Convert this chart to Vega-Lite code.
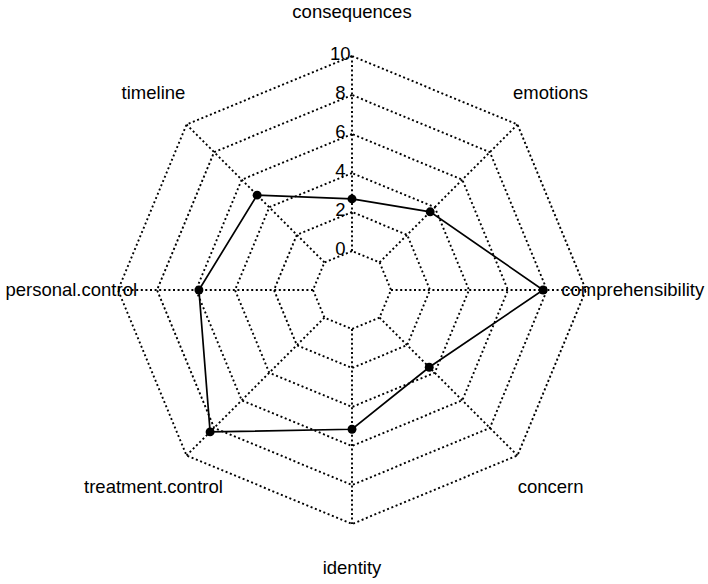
{
  "$schema": "https://vega.github.io/schema/vega-lite/v6.json",
  "width": 708,
  "height": 584,
  "padding": 0,
  "autosize": {"type": "fit", "contains": "padding"},
  "background": "white",
  "config": {"view": {"stroke": null}, "text": {"font": "Liberation Sans", "fontSize": 18.5, "color": "black"}},
  "datasets": {
    "scores": [
      {"axis": "consequences", "k": 0, "value": 2.67},
      {"axis": "timeline", "k": 1, "value": 4.88},
      {"axis": "personal.control", "k": 2, "value": 5.85},
      {"axis": "treatment.control", "k": 3, "value": 8.29},
      {"axis": "identity", "k": 4, "value": 5.14},
      {"axis": "concern", "k": 5, "value": 3.6},
      {"axis": "comprehensibility", "k": 6, "value": 7.8},
      {"axis": "emotions", "k": 7, "value": 3.67}
    ],
    "grid": [
      {"k": 0, "levels": [0, 2, 4, 6, 8, 10]},
      {"k": 1, "levels": [0, 2, 4, 6, 8, 10]},
      {"k": 2, "levels": [0, 2, 4, 6, 8, 10]},
      {"k": 3, "levels": [0, 2, 4, 6, 8, 10]},
      {"k": 4, "levels": [0, 2, 4, 6, 8, 10]},
      {"k": 5, "levels": [0, 2, 4, 6, 8, 10]},
      {"k": 6, "levels": [0, 2, 4, 6, 8, 10]},
      {"k": 7, "levels": [0, 2, 4, 6, 8, 10]}
    ],
    "ticks": [
      {"level": 0}, {"level": 2}, {"level": 4}, {"level": 6}, {"level": 8}, {"level": 10}
    ]
  },
  "layer": [
    {
      "data": {"name": "grid"},
      "transform": [
        {"flatten": ["levels"], "as": ["level"]},
        {"calculate": "(datum.level + 2) / 12", "as": "r"},
        {"calculate": "PI / 2 + datum.k * PI / 4", "as": "ang"},
        {"calculate": "datum.r * cos(datum.ang)", "as": "gx"},
        {"calculate": "datum.r * sin(datum.ang)", "as": "gy"}
      ],
      "mark": {"type": "line", "interpolate": "linear-closed", "color": "black", "strokeWidth": 1.9, "strokeDash": [2, 2.6]},
      "encoding": {
        "x": {"field": "gx", "type": "quantitative", "scale": {"domain": [-1.5043, 1.5214], "nice": false, "zero": false}, "axis": null},
        "y": {"field": "gy", "type": "quantitative", "scale": {"domain": [-1.2564, 1.2393], "nice": false, "zero": false}, "axis": null},
        "detail": {"field": "level", "type": "nominal"},
        "order": {"field": "k", "type": "quantitative"}
      }
    },
    {
      "data": {"name": "scores"},
      "transform": [
        {"calculate": "PI / 2 + datum.k * PI / 4", "as": "ang"},
        {"calculate": "cos(datum.ang) / 6", "as": "sx"},
        {"calculate": "sin(datum.ang) / 6", "as": "sy"},
        {"calculate": "cos(datum.ang)", "as": "ex"},
        {"calculate": "sin(datum.ang)", "as": "ey"}
      ],
      "mark": {"type": "rule", "color": "black", "strokeWidth": 1.9, "strokeDash": [2, 2.6]},
      "encoding": {
        "x": {"field": "sx", "type": "quantitative", "scale": {"domain": [-1.5043, 1.5214], "nice": false, "zero": false}, "axis": null},
        "y": {"field": "sy", "type": "quantitative", "scale": {"domain": [-1.2564, 1.2393], "nice": false, "zero": false}, "axis": null},
        "x2": {"field": "ex"},
        "y2": {"field": "ey"}
      }
    },
    {
      "data": {"name": "ticks"},
      "transform": [
        {"calculate": "-0.05", "as": "tx"},
        {"calculate": "(datum.level + 2) / 12", "as": "ty"}
      ],
      "mark": {"type": "text", "align": "center", "baseline": "middle", "dy": -2},
      "encoding": {
        "x": {"field": "tx", "type": "quantitative", "scale": {"domain": [-1.5043, 1.5214], "nice": false, "zero": false}, "axis": null},
        "y": {"field": "ty", "type": "quantitative", "scale": {"domain": [-1.2564, 1.2393], "nice": false, "zero": false}, "axis": null},
        "text": {"field": "level", "type": "quantitative"}
      }
    },
    {
      "data": {"name": "scores"},
      "transform": [
        {"calculate": "PI / 2 + datum.k * PI / 4", "as": "ang"},
        {"calculate": "(datum.value + 2) / 12", "as": "r"},
        {"calculate": "datum.r * cos(datum.ang)", "as": "px"},
        {"calculate": "datum.r * sin(datum.ang)", "as": "py"}
      ],
      "layer": [
        {
          "mark": {"type": "line", "interpolate": "linear-closed", "color": "black", "strokeWidth": 1.7},
          "encoding": {
            "x": {"field": "px", "type": "quantitative", "scale": {"domain": [-1.5043, 1.5214], "nice": false, "zero": false}, "axis": null},
            "y": {"field": "py", "type": "quantitative", "scale": {"domain": [-1.2564, 1.2393], "nice": false, "zero": false}, "axis": null},
            "order": {"field": "k", "type": "quantitative"}
          }
        },
        {
          "mark": {"type": "circle", "color": "black", "opacity": 1, "size": 80},
          "encoding": {
            "x": {"field": "px", "type": "quantitative", "scale": {"domain": [-1.5043, 1.5214], "nice": false, "zero": false}, "axis": null},
            "y": {"field": "py", "type": "quantitative", "scale": {"domain": [-1.2564, 1.2393], "nice": false, "zero": false}, "axis": null}
          }
        }
      ]
    },
    {
      "data": {"name": "scores"},
      "transform": [
        {"calculate": "PI / 2 + datum.k * PI / 4", "as": "ang"},
        {"calculate": "1.2 * cos(datum.ang)", "as": "lx"},
        {"calculate": "1.19 * sin(datum.ang)", "as": "ly"}
      ],
      "mark": {"type": "text", "align": "center", "baseline": "middle"},
      "encoding": {
        "x": {"field": "lx", "type": "quantitative", "scale": {"domain": [-1.5043, 1.5214], "nice": false, "zero": false}, "axis": null},
        "y": {"field": "ly", "type": "quantitative", "scale": {"domain": [-1.2564, 1.2393], "nice": false, "zero": false}, "axis": null},
        "text": {"field": "axis", "type": "nominal"}
      }
    }
  ]
}
